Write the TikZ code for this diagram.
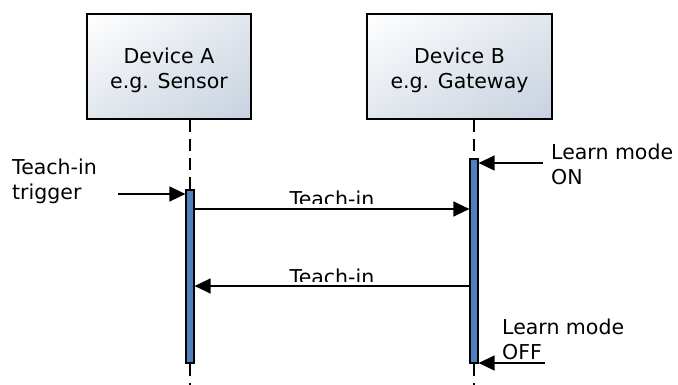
\documentclass[tikz,border=0pt]{standalone}
\usepackage{fontspec}
\setmainfont{DejaVu Sans}
\usetikzlibrary{arrows.meta,shadings}
\definecolor{barblue}{HTML}{4F81BD}
\definecolor{boxlow}{HTML}{C7D1DE}
\definecolor{boxmid}{HTML}{E2E7EE}
\begin{document}
\begin{tikzpicture}[x=1pt,y=-1pt,
  txt/.style={font=\fontsize{20.5}{25}\selectfont, inner sep=0pt},
  device/.style={draw=black, line width=1.6pt,
    upper left=white, upper right=boxmid, lower left=boxmid, lower right=boxlow,
    minimum height=105pt},
  bar/.style={draw=black, line width=1.2pt, fill=barblue, minimum width=8pt, inner sep=0pt},
  life/.style={line width=1.6pt, dash pattern=on 12pt off 7pt},
  msg/.style={line width=1.3pt, -{Triangle[length=16pt,width=15pt]}},
  lbl/.style={txt, align=left, anchor=base west},
]
\useasboundingbox (0,0) rectangle (678,385);

% devices
\node[device, minimum width=164pt] (devA) at (169,66.5) {};
\node[txt, align=center, yshift=-4pt] (devAt) at (devA.center) {Device A\\e.g. Sensor};
\node[device, minimum width=185pt] (devB) at (459.5,66.5) {};
\node[txt, align=center, yshift=-4pt] (devBt) at (devB.center) {Device B\\e.g. Gateway};

% activation bars
\node[bar, minimum height=173pt] (barA) at (190,276.5) {};
\node[bar, minimum height=204pt] (barB) at (474,261) {};

% lifelines
\coordinate (endA) at (190,385);
\coordinate (endB) at (474,385);
\draw[life] (barA.north |- devA.south) -- (barA.north);
\draw[life] (barA.south) -- (endA);
\draw[life] (barB.north |- devB.south) -- (barB.north);
\draw[life] (barB.south) -- (endB);

% external triggers
\coordinate (trigS) at (118,194);
\draw[msg] (trigS) -- (barA.west |- trigS);
\coordinate (onS) at (543,163);
\draw[msg] (onS) -- (barB.east |- onS);
\coordinate (offS) at (545,363);
\draw[msg] (offS) -- (barB.east |- offS);

% messages
\coordinate (m1) at (194,209);
\draw[msg] (barA.east |- m1) -- (barB.west |- m1);
\coordinate (m2) at (194,286);
\draw[msg] (barB.west |- m2) -- (barA.east |- m2);

% message labels (clipped as in the original)
\begin{scope}
  \clip (250,180) rectangle (420,204);
  \node[txt, anchor=base] (l1) at (332,207) {Teach-in};
\end{scope}
\begin{scope}
  \clip (250,257) rectangle (420,281);
  \node[txt, anchor=base] (l2) at (332,284) {Teach-in};
\end{scope}

% side labels (base = baseline of the last line)
\node[lbl] (trig) at (12,200) {Teach-in\\trigger};
\node[lbl] (on) at (551,185) {Learn mode\\ON};
\node[lbl] (off) at (502,359) {Learn mode\\OFF};
\end{tikzpicture}
\end{document}
